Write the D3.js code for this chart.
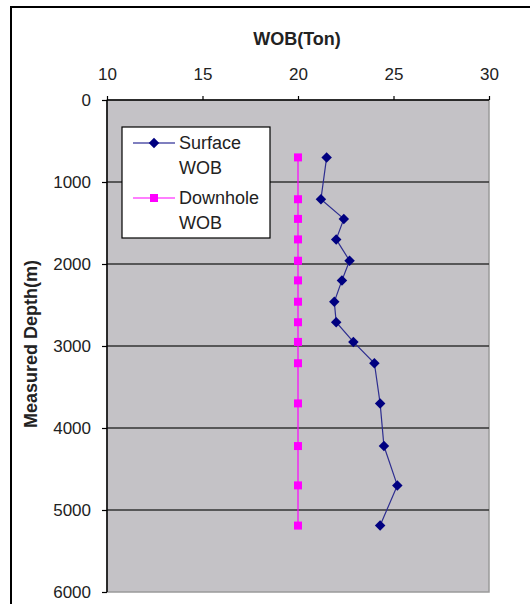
<!DOCTYPE html>
<html>
<head>
  <meta charset="utf-8">
  <script src="https://d3js.org/d3.v7.min.js"></script>
  <title>WOB vs Measured Depth</title>
  <style>
    body { margin: 0; background: #fff; }
    text { font-family: "Liberation Sans", Arial, sans-serif; fill: #222; }
  </style>
</head>
<body>
  <div class="chart"></div>
  <script>
    // chart values
    var depths = [700, 1210, 1450, 1700, 1960, 2200, 2460, 2710, 2950, 3210, 3700, 4220, 4700, 5190];
    var surfaceWob = [21.5, 21.2, 22.4, 22.0, 22.7, 22.3, 21.9, 22.0, 22.9, 24.0, 24.3, 24.5, 25.2, 24.3];
    var downholeWob = [20, 20, 20, 20, 20, 20, 20, 20, 20, 20, 20, 20, 20, 20];
    var xTicks = [10, 15, 20, 25, 30];
    var yTicks = [0, 1000, 2000, 3000, 4000, 5000, 6000];
    var seriesNames = [["Surface", "WOB"], ["Downhole", "WOB"]];

    function draw() {
      var width = 530, height = 604;
      // plot area edges
      var pl = 107, pr = 489, pt = 100, pb = 592;

      var svg = d3.select('.chart')
        .append('svg')
        .attr('width', width)
        .attr('height', height);

      // outer frame, runs off the right and bottom edge
      svg.append('rect')
        .attr('x', 11).attr('y', 7)
        .attr('width', 560).attr('height', 640)
        .attr('fill', 'none')
        .attr('stroke', '#000')
        .attr('stroke-width', 2);

      var x = d3.scaleLinear().domain([10, 30]).range([pl, pr]);
      var y = d3.scaleLinear().domain([0, 6000]).range([pt, pb]);

      // plot area
      svg.append('rect')
        .attr('x', pl).attr('y', pt)
        .attr('width', pr - pl).attr('height', pb - pt)
        .attr('fill', '#c4c2c6')
        .attr('stroke', '#9a9a9a')
        .attr('stroke-width', 1.5);

      // horizontal grid lines
      svg.selectAll('line.grid')
        .data(yTicks.slice(1, -1))
        .enter()
        .append('line')
        .attr('class', 'grid')
        .attr('x1', pl).attr('x2', pr)
        .attr('y1', function(d) { return y(d); })
        .attr('y2', function(d) { return y(d); })
        .attr('stroke', '#333')
        .attr('stroke-width', 1.5);

      var xAxis = svg.append('g')
        .attr('transform', 'translate(0,' + pt + ')')
        .call(d3.axisTop(x).tickValues(xTicks).tickSize(4).tickPadding(16)
          .tickFormat(d3.format('d')));
      var yAxis = svg.append('g')
        .attr('transform', 'translate(' + pl + ',0)')
        .call(d3.axisLeft(y).tickValues(yTicks).tickSize(5).tickPadding(11)
          .tickFormat(d3.format('d')));

      [xAxis, yAxis].forEach(function(g) {
        g.select('.domain').attr('stroke', '#000').attr('stroke-width', 1.5);
        g.selectAll('.tick line').attr('stroke', '#000').attr('stroke-width', 1.2);
        g.selectAll('.tick text')
          .style('font-family', '"Liberation Sans", Arial, sans-serif')
          .style('font-size', '17px')
          .attr('fill', '#222');
      });
      xAxis.select('.domain').attr('d', 'M' + pl + ',0H' + pr);
      yAxis.select('.domain').attr('d', 'M0,' + pt + 'V' + pb);

      // axis titles
      svg.append('text')
        .attr('x', 297).attr('y', 45)
        .attr('text-anchor', 'middle')
        .style('font-size', '18px')
        .style('font-weight', 'bold')
        .text('WOB(Ton)');

      svg.append('text')
        .attr('transform', 'translate(37,344) rotate(-90)')
        .attr('text-anchor', 'middle')
        .style('font-size', '18px')
        .style('font-weight', 'bold')
        .text('Measured Depth(m)');

      var line = d3.line()
        .x(function(d) { return x(d[1]); })
        .y(function(d) { return y(d[0]); });

      var surfacePts = d3.zip(depths, surfaceWob);
      var downholePts = d3.zip(depths, downholeWob);

      var diamond = d3.symbol().type(d3.symbolDiamond2).size(70);
      var square = d3.symbol().type(d3.symbolSquare).size(64);

      // downhole series
      svg.append('path')
        .datum(downholePts)
        .attr('d', line)
        .attr('fill', 'none')
        .attr('stroke', '#ff00ff')
        .attr('stroke-width', 1.2);
      svg.selectAll('path.dh')
        .data(downholePts)
        .enter()
        .append('path')
        .attr('class', 'dh')
        .attr('d', square)
        .attr('transform', function(d) { return 'translate(' + x(d[1]) + ',' + y(d[0]) + ')'; })
        .attr('fill', '#ff00ff');

      // surface series
      svg.append('path')
        .datum(surfacePts)
        .attr('d', line)
        .attr('fill', 'none')
        .attr('stroke', '#2e2e90')
        .attr('stroke-width', 1.2);
      svg.selectAll('path.sf')
        .data(surfacePts)
        .enter()
        .append('path')
        .attr('class', 'sf')
        .attr('d', diamond)
        .attr('transform', function(d) { return 'translate(' + x(d[1]) + ',' + y(d[0]) + ')'; })
        .attr('fill', '#000080');

      // legend
      var legend = svg.append('g');
      legend.append('rect')
        .attr('x', 122).attr('y', 127)
        .attr('width', 148).attr('height', 111)
        .attr('fill', '#fff')
        .attr('stroke', '#000')
        .attr('stroke-width', 1.2);

      var legendColors = ['#000080', '#ff00ff'];
      var legendSymbols = [diamond, square];
      seriesNames.forEach(function(name, i) {
        var ly = 143 + i * 55;
        legend.append('line')
          .attr('x1', 133).attr('x2', 175)
          .attr('y1', ly).attr('y2', ly)
          .attr('stroke', legendColors[i])
          .attr('stroke-width', 1.2);
        legend.append('path')
          .attr('d', legendSymbols[i])
          .attr('transform', 'translate(154,' + ly + ')')
          .attr('fill', legendColors[i]);
        legend.append('text')
          .attr('x', 179).attr('y', ly + 6)
          .style('font-size', '18px')
          .text(name[0]);
        legend.append('text')
          .attr('x', 179).attr('y', ly + 31)
          .style('font-size', '18px')
          .text(name[1]);
      });
    }

    draw();
  </script>
</body>
</html>
